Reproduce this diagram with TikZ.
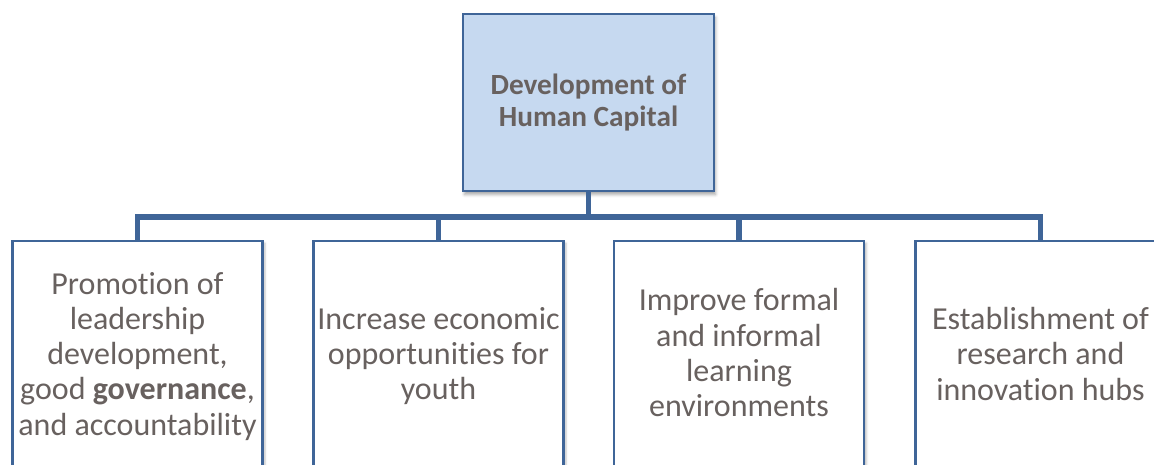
\documentclass[tikz,border=0pt]{standalone}
\usepackage{fontspec}
\setmainfont[Ligatures=NoCommon]{Carlito}
\usetikzlibrary{shadows,shadows.blur,calc}
\definecolor{linkblue}{RGB}{63,101,152}
\definecolor{headfill}{RGB}{198,217,240}
\definecolor{txtgray}{RGB}{104,97,95}
\begin{document}
\begin{tikzpicture}[x=1pt,y=-1pt,
  headbox/.style={draw=linkblue, line width=2.8pt, fill=headfill,
    minimum width=251pt, minimum height=177pt, inner sep=0pt,
    blur shadow={shadow xshift=1.5pt, shadow yshift=-3.5pt,
      shadow blur radius=3pt, shadow opacity=35}},
  itembox/.style={draw=linkblue, line width=2.2pt, fill=white,
    minimum width=250pt, minimum height=240pt, inner sep=0pt, anchor=north,
    blur shadow={shadow xshift=2.5pt, shadow yshift=-2pt,
      shadow blur radius=2pt, shadow opacity=25}},
  headtext/.style={text=txtgray, align=center, anchor=base, inner sep=0pt,
    font=\fontsize{29.3}{32.4}\selectfont\bfseries},
  itemtext/.style={text=txtgray, align=center, anchor=base, inner sep=0pt,
    font=\fontsize{32}{35.2}\selectfont},
  conn/.style={draw=linkblue, line width=5.5pt}]
  \useasboundingbox (0,0) rectangle (1154,465);
  \clip (0,0) rectangle (1154,465);

  % head box
  \node[headbox] (top) at (588.5,102.5) {};
  % base anchor sits on the last line
  \node[headtext] (toptext) at (588.5,126.7) {Development of\\Human Capital};

  % four item boxes
  \node[itembox] (b1) at (137.5,240) {};
  \node[itembox] (b2) at (438.5,240) {};
  \node[itembox] (b3) at (739,240) {};
  \node[itembox] (b4) at (1040.5,240) {};

  % connector tree
  \coordinate (bus) at ($(top.south)+(0,24.5)$);
  \draw[conn] (top.south) -- (bus);
  \draw[conn] (b1.north) |- (bus) -| (b4.north);
  \draw[conn] (b2.north) -- (b2.north |- bus);
  \draw[conn] (b3.north) -- (b3.north |- bus);

  % item texts, placed by the baseline of their last line
  \node[itemtext] (t1) at (137.5,435) {Promotion of\\leadership\\development,\\good \textbf{governance},\\and accountability};
  \node[itemtext] (t2) at (438.5,399.5) {Increase economic\\opportunities for\\youth};
  \node[itemtext] (t3) at (739,416.5) {Improve formal\\and informal\\learning\\environments};
  \node[itemtext] (t4) at (1040.5,400) {Establishment of\\research and\\innovation hubs};
\end{tikzpicture}
\end{document}
